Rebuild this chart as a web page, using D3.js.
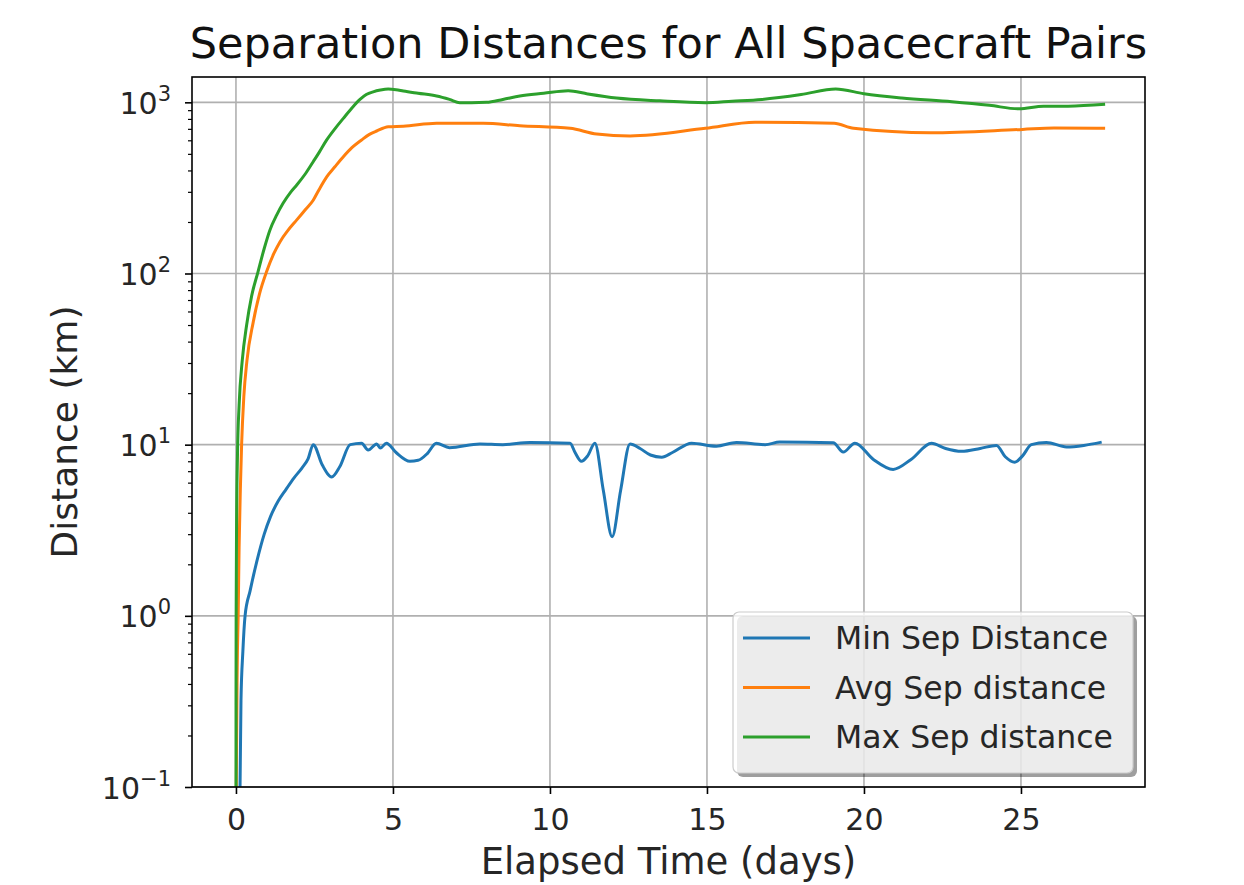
<!DOCTYPE html>
<html>
<head>
<meta charset="utf-8">
<script src="https://cdn.jsdelivr.net/npm/d3@7"></script>
<style>
  body { margin: 0; background: #fff; }
  svg { display: block; font-family: "DejaVu Sans", sans-serif; }
</style>
</head>
<body>
<svg id="chart" width="1244" height="885"></svg>
<script>
// ---------------- data ----------------
const titleText = "Separation Distances for All Spacecraft Pairs";
const xLabel = "Elapsed Time (days)";
const yLabel = "Distance (km)";
const seriesNames = ["Min Sep Distance", "Avg Sep distance", "Max Sep distance"];
const seriesColors = ["#1f77b4", "#ff7f0e", "#2ca02c"];
const xTicks = [0, 5, 10, 15, 20, 25];
const yTickExponents = [-1, 0, 1, 2, 3];

const minT = [0.1,0.13,0.16,0.22,0.29,0.45,0.67,0.9,1.1,1.35,1.6,1.85,2.1,2.3,2.46,2.75,3.05,3.3,3.64,4.0,4.21,4.48,4.6,4.79,5.1,5.54,5.8,6.1,6.38,6.8,7.77,8.5,9.36,10.64,10.8,11.0,11.2,11.43,11.7,11.98,12.25,12.55,12.87,13.2,13.56,13.9,14.51,15.3,15.94,16.85,17.32,19.02,19.34,19.71,20.3,20.93,21.5,22.15,22.6,23.11,23.7,24.22,24.5,24.8,25.05,25.33,25.81,26.45,27.0,27.57];
const minV = [0.01,0.1,0.32,0.62,1.0,1.4,2.1,3.0,3.8,4.7,5.5,6.4,7.3,8.3,10,7.6,6.47,7.4,10,10.2,9.3,10.1,9.55,10.2,9.0,8.0,8.1,8.9,10.2,9.6,10.1,10,10.3,10.2,9.0,8.0,8.6,10.2,5.4,2.9,5.4,10.1,9.5,8.7,8.45,9.0,10.2,9.8,10.3,10,10.35,10.27,9.05,10.2,8.2,7.17,8.2,10.2,9.5,9.14,9.5,9.9,8.5,7.9,8.6,10,10.3,9.7,9.9,10.35];

const avgT = [0,0.01,0.04,0.07,0.1,0.14,0.18,0.25,0.35,0.55,0.75,0.98,1.2,1.4,1.65,1.93,2.2,2.46,2.65,2.89,3.15,3.42,3.7,4.0,4.25,4.48,4.85,5.33,6.39,7.87,9.04,10.64,11.49,12.55,14.95,16.53,19.05,19.67,22.13,25.05,26.05,27.68];
const avgV = [0.001,0.1,0.5,1,2.5,5.5,10,19,31,52,76,103,130,153,178,205,235,268,310,367,420,481,545,603,650,680,720,725,754,754,730,705,653,636,705,765,754,705,664,695,707,705];

const maxT = [0,0.002,0.006,0.02,0.05,0.1,0.2,0.34,0.5,0.7,0.9,1.08,1.3,1.5,1.75,1.93,2.2,2.46,2.65,2.89,3.15,3.42,3.7,3.95,4.15,4.37,4.6,4.85,5.1,5.33,5.8,6.39,6.8,7.13,7.5,7.98,8.5,9.04,9.8,10.58,11.2,12.12,13.5,14.95,15.8,16.75,18.0,19.1,20.0,21.2,22.8,24.0,24.94,25.72,26.5,27.68];
const maxV = [0.001,0.3,1,3.5,9,17,31,50,74,102,140,179,220,257,300,328,380,450,510,603,700,806,930,1040,1110,1152,1180,1196,1185,1165,1130,1089,1040,995,995,1000,1040,1089,1130,1170,1120,1060,1020,995,1015,1040,1110,1197,1122,1060,1008,960,916,950,950,973];

const seriesT = [minT, avgT, maxT];
const seriesV = [minV, avgV, maxV];

// ---------------- layout ----------------
const L = 192, R = 1145, T = 77, B = 787;
const svg = d3.select("#chart");

const x = d3.scaleLinear().domain([-1.40, 28.95]).range([L, R]);
const y = d3.scaleLog().domain([0.1, 1406]).range([B, T]);

svg.append("defs").append("clipPath").attr("id", "clip")
  .append("rect").attr("x", L).attr("y", T).attr("width", R - L).attr("height", B - T);

// grid
const grid = svg.append("g");
grid.selectAll(".gx").data(xTicks).enter().append("line")
  .attr("x1", d => x(d)).attr("x2", d => x(d)).attr("y1", T).attr("y2", B)
  .attr("stroke", "#b0b0b0").attr("stroke-width", 1.6);
grid.selectAll(".gy").data(yTickExponents).enter().append("line")
  .attr("x1", L).attr("x2", R).attr("y1", d => y(Math.pow(10, d))).attr("y2", d => y(Math.pow(10, d)))
  .attr("stroke", "#b0b0b0").attr("stroke-width", 1.6);

// lines
const line = d3.line().curve(d3.curveMonotoneX)
  .x(d => x(d[0])).y(d => y(Math.max(d[1], 1e-4)));
const lines = svg.append("g").attr("clip-path", "url(#clip)");
seriesT.forEach((ts, i) => {
  const pts = ts.map((t, j) => [t, seriesV[i][j]]);
  lines.append("path").attr("d", line(pts)).attr("fill", "none")
    .attr("stroke", seriesColors[i]).attr("stroke-width", 3)
    .attr("stroke-linejoin", "round").attr("stroke-linecap", "butt");
});

// axes
const xAxis = d3.axisBottom(x).tickValues(xTicks).tickSize(7).tickPadding(15).tickFormat(d3.format("d"));
const gx = svg.append("g").attr("transform", `translate(0,${B})`).call(xAxis);
gx.select(".domain").remove();
gx.selectAll(".tick line").attr("stroke", "#000").attr("stroke-width", 1.6);
gx.selectAll(".tick text").attr("font-size", 30).attr("fill", "#262626")
  .attr("font-family", "DejaVu Sans");

const minorVals = [];
for (let e = -1; e <= 3; e++) for (let m = 2; m <= 9; m++) {
  const v = m * Math.pow(10, e);
  if (v <= 1406) minorVals.push(v);
}
const gyMinor = svg.append("g").attr("transform", `translate(${L},0)`)
  .call(d3.axisLeft(y).tickValues(minorVals).tickSize(4).tickFormat(""));
gyMinor.select(".domain").remove();
gyMinor.selectAll(".tick line").attr("stroke", "#000").attr("stroke-width", 1.2);

const gy = svg.append("g").attr("transform", `translate(${L},0)`)
  .call(d3.axisLeft(y).tickValues(yTickExponents.map(e => Math.pow(10, e))).tickSize(7).tickFormat(""));
gy.select(".domain").remove();
gy.selectAll(".tick line").attr("stroke", "#000").attr("stroke-width", 1.6);
gy.selectAll(".tick").each(function(d) {
  const e = Math.round(Math.log10(d));
  const t = d3.select(this).append("text").attr("x", -21).attr("y", 11)
    .attr("text-anchor", "end").attr("font-size", 30).attr("fill", "#262626")
    .attr("font-family", "DejaVu Sans");
  t.append("tspan").text("10");
  t.append("tspan").attr("dy", -13).attr("font-size", 21)
    .text(e < 0 ? "\u2212" + Math.abs(e) : String(e));
});

// frame
svg.append("rect").attr("x", L).attr("y", T).attr("width", R - L).attr("height", B - T)
  .attr("fill", "none").attr("stroke", "#000").attr("stroke-width", 1.6);

// labels
svg.append("text").attr("x", (L + R) / 2).attr("y", 58).attr("text-anchor", "middle")
  .attr("font-size", 43).attr("fill", "#111").text(titleText);
svg.append("text").attr("x", (L + R) / 2).attr("y", 874).attr("text-anchor", "middle")
  .attr("font-size", 37).attr("fill", "#262626").text(xLabel);
svg.append("text").attr("transform", `translate(77,${(T + B) / 2}) rotate(-90)`)
  .attr("text-anchor", "middle").attr("font-size", 36).attr("fill", "#262626").text(yLabel);

// legend
const lgX = 733, lgY = 612, lgW = 400, lgH = 161;
const lg = svg.append("g");
lg.append("rect").attr("x", lgX + 4).attr("y", lgY + 4).attr("width", lgW).attr("height", lgH)
  .attr("rx", 6).attr("fill", "#000").attr("opacity", 0.38);
lg.append("rect").attr("x", lgX).attr("y", lgY).attr("width", lgW).attr("height", lgH)
  .attr("rx", 6).attr("fill", "#fff").attr("fill-opacity", 0.8).attr("stroke", "#cccccc").attr("stroke-width", 1.2);
seriesNames.forEach((n, i) => {
  const yy = lgY + 26 + i * 49.5;
  lg.append("line").attr("x1", lgX + 10).attr("x2", lgX + 77).attr("y1", yy).attr("y2", yy)
    .attr("stroke", seriesColors[i]).attr("stroke-width", 3);
  lg.append("text").attr("x", lgX + 102).attr("y", yy + 11).attr("font-size", 31.5)
    .attr("fill", "#262626").text(n);
});
</script>
</body>
</html>
